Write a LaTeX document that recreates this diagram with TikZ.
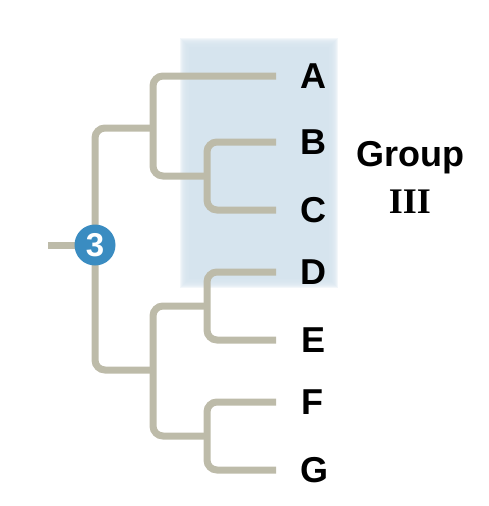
\documentclass[tikz,border=0pt]{standalone}
\usepackage{fontspec}
\setmainfont{Liberation Sans}
\newfontfamily\serifbold{Liberation Serif}
\definecolor{branch}{HTML}{BDBBA9}
\definecolor{groupblue}{HTML}{D6E4EE}
\definecolor{badge}{HTML}{3A8CC1}
\begin{document}
\begin{tikzpicture}[x=1pt,y=-1pt,
  branchline/.style={draw=branch,line width=7pt,rounded corners=10pt,line cap=butt},
  leaflabel/.style={font=\fontsize{36}{40}\selectfont\bfseries,inner sep=0pt},
  badgenode/.style={circle,fill=badge,minimum size=41pt,inner sep=0pt,text=white,font=\fontsize{33}{36}\selectfont\bfseries}]
\useasboundingbox (0,0) rectangle (488,506);
% shaded group region with soft edges
\foreach \i in {0,...,8}{
  \fill[groupblue,opacity=0.3] (180+\i,38+\i) rectangle (338-\i,288-\i);
}
\fill[groupblue] (189,47) rectangle (329,279);
% leaf tips
\coordinate (tA) at (276,76);
\coordinate (tB) at (276,142);
\coordinate (tC) at (276,210);
\coordinate (tD) at (276,272);
\coordinate (tE) at (276,340);
\coordinate (tF) at (276,402);
\coordinate (tG) at (276,470);
% internal nodes
\coordinate (nBC) at (207,176);
\coordinate (nABC) at (153,128);
\coordinate (nDE) at (207,306);
\coordinate (nFG) at (207,436);
\coordinate (nDEFG) at (153,370);
\coordinate (nRoot) at (95,245);
\coordinate (stub) at (48,245);
% branches
\draw[branchline] (tB) -| (nBC) |- (tC);
\draw[branchline] (tA) -| (nABC) |- (nBC);
\draw[branchline] (tD) -| (nDE) |- (tE);
\draw[branchline] (tF) -| (nFG) |- (tG);
\draw[branchline] (nDE) -| (nDEFG) |- (nFG);
\draw[branchline] (nABC) -| (nRoot) |- (nDEFG);
\draw[branchline] (stub) -- (nRoot);
\node[badgenode] (badge) at (nRoot) {3};
% labels
\node[leaflabel] (A) at (313,76) {A};
\node[leaflabel] (B) at (313,142) {B};
\node[leaflabel] (C) at (313,210) {C};
\node[leaflabel] (D) at (313,272) {D};
\node[leaflabel] (E) at (314,340) {E};
\node[leaflabel] (F) at (312,402) {F};
\node[leaflabel] (G) at (314,470) {G};
\node[leaflabel] (grp) at (410,158) {Group};
\node[leaflabel,font=\fontsize{36}{40}\serifbold\bfseries] (grpnum) at (410,202) {III};
\end{tikzpicture}
\end{document}
